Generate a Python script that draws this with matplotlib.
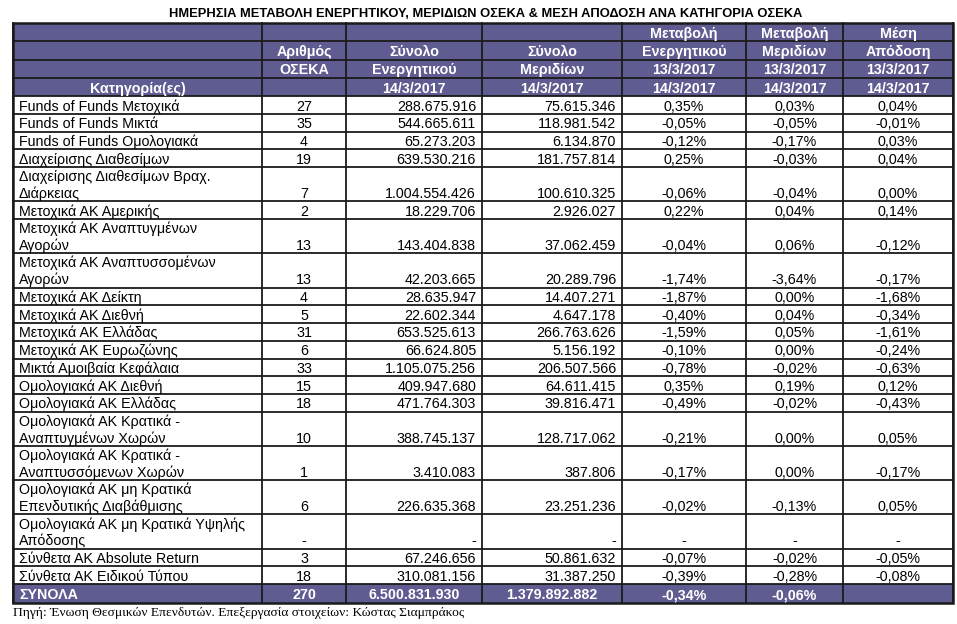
import matplotlib
matplotlib.use("Agg")
import matplotlib.pyplot as plt
from matplotlib.patches import Rectangle

plt.rcParams['font.family'] = ['Liberation Sans', 'DejaVu Sans']

title = "ΗΜΕΡΗΣΙΑ ΜΕΤΑΒΟΛΗ ΕΝΕΡΓΗΤΙΚΟΥ, ΜΕΡΙΔΙΩΝ ΟΣΕΚΑ & ΜΕΣΗ ΑΠΟΔΟΣΗ ΑΝΑ ΚΑΤΗΓΟΡΙΑ ΟΣΕΚΑ"
source = "Πηγή: Ένωση Θεσμικών Επενδυτών. Επεξεργασία στοιχείων: Κώστας Σιαμπράκος"

# κεφαλίδες: 4 γραμμές ανά στήλη
header = [
    ["", "", "", "Κατηγορία(ες)"],
    ["", "Αριθμός", "ΟΣΕΚΑ", ""],
    ["", "Σύνολο", "Ενεργητικού", "14/3/2017"],
    ["", "Σύνολο", "Μεριδίων", "14/3/2017"],
    ["Μεταβολή", "Ενεργητικού", "13/3/2017", "14/3/2017"],
    ["Μεταβολή", "Μεριδίων", "13/3/2017", "14/3/2017"],
    ["Μέση", "Απόδοση", "13/3/2017", "14/3/2017"],
]

categories = [
    "Funds of Funds Μετοχικά",
    "Funds of Funds Μικτά",
    "Funds of Funds Ομολογιακά",
    "Διαχείρισης Διαθεσίμων",
    "Διαχείρισης Διαθεσίμων Βραχ.\nΔιάρκειας",
    "Μετοχικά ΑΚ Αμερικής",
    "Μετοχικά ΑΚ Αναπτυγμένων\nΑγορών",
    "Μετοχικά ΑΚ Αναπτυσσομένων\nΑγορών",
    "Μετοχικά ΑΚ Δείκτη",
    "Μετοχικά ΑΚ Διεθνή",
    "Μετοχικά ΑΚ Ελλάδας",
    "Μετοχικά ΑΚ Ευρωζώνης",
    "Μικτά Αμοιβαία Κεφάλαια",
    "Ομολογιακά ΑΚ Διεθνή",
    "Ομολογιακά ΑΚ Ελλάδας",
    "Ομολογιακά ΑΚ Κρατικά -\nΑναπτυγμένων Χωρών",
    "Ομολογιακά ΑΚ Κρατικά -\nΑναπτυσσόμενων Χωρών",
    "Ομολογιακά ΑΚ μη Κρατικά\nΕπενδυτικής Διαβάθμισης",
    "Ομολογιακά ΑΚ μη Κρατικά Υψηλής\nΑπόδοσης",
    "Σύνθετα ΑΚ Absolute Return",
    "Σύνθετα ΑΚ Ειδικού Τύπου",
]
n_funds = ["27", "35", "4", "19", "7", "2", "13", "13", "4", "5", "31", "6",
           "33", "15", "18", "10", "1", "6", "-", "3", "18"]
assets = ["288.675.916", "544.665.611", "65.273.203", "639.530.216", "1.004.554.426",
          "18.229.706", "143.404.838", "42.203.665", "28.635.947", "22.602.344",
          "653.525.613", "66.624.805", "1.105.075.256", "409.947.680", "471.764.303",
          "388.745.137", "3.410.083", "226.635.368", "-", "67.246.656", "310.081.156"]
units = ["75.615.346", "118.981.542", "6.134.870", "181.757.814", "100.610.325",
         "2.926.027", "37.062.459", "20.289.796", "14.407.271", "4.647.178",
         "266.763.626", "5.156.192", "206.507.566", "64.611.415", "39.816.471",
         "128.717.062", "387.806", "23.251.236", "-", "50.861.632", "31.387.250"]
chg_assets = ["0,35%", "-0,05%", "-0,12%", "0,25%", "-0,06%", "0,22%", "-0,04%",
              "-1,74%", "-1,87%", "-0,40%", "-1,59%", "-0,10%", "-0,78%", "0,35%",
              "-0,49%", "-0,21%", "-0,17%", "-0,02%", "-", "-0,07%", "-0,39%"]
chg_units = ["0,03%", "-0,05%", "-0,17%", "-0,03%", "-0,04%", "0,04%", "0,06%",
             "-3,64%", "0,00%", "0,04%", "0,05%", "0,00%", "-0,02%", "0,19%",
             "-0,02%", "0,00%", "0,00%", "-0,13%", "-", "-0,02%", "-0,28%"]
avg_return = ["0,04%", "-0,01%", "0,03%", "0,04%", "0,00%", "0,14%", "-0,12%",
              "-0,17%", "-1,68%", "-0,34%", "-1,61%", "-0,24%", "-0,63%", "0,12%",
              "-0,43%", "0,05%", "-0,17%", "0,05%", "-", "-0,05%", "-0,08%"]
totals = ["ΣΥΝΟΛΑ", "270", "6.500.831.930", "1.379.892.882", "-0,34%", "-0,06%", ""]

# διάταξη σε pixels
W, H = 957, 624
col_x = [13, 262, 346, 482, 622, 746, 843, 953]
data_align = ["left", "center", "right", "right", "center", "center", "center"]
head_color = "#5f5c92"
line_color = "#1a1a1a"
top = 23
head_h = 18.3
row_h = 17.75
total_h = 19
fs = 10.3

fig = plt.figure(figsize=(W / 100, H / 100), dpi=100)
ax = fig.add_axes([0, 0, 1, 1])
ax.set_xlim(0, W)
ax.set_ylim(H, 0)
ax.axis("off")

ax.text((col_x[0] + col_x[-1]) / 2 + 3, 14, title, ha="center", va="center",
        fontsize=9.3, fontweight="bold")


def put(txt, c, y_bottom, align, **kw):
    x0, x1 = col_x[c], col_x[c + 1]
    if align == "left":
        x, ha = x0 + 6, "left"
    elif align == "right":
        x, ha = x1 - 6, "right"
    else:
        x, ha = (x0 + x1) / 2, "center"
    ax.text(x, y_bottom, txt, ha=ha, va="baseline", fontsize=fs, linespacing=1.2, **kw)


# κεφαλίδα
y = top
ax.add_patch(Rectangle((col_x[0], top), col_x[-1] - col_x[0], 4 * head_h,
                       facecolor=head_color, edgecolor="none"))
for r in range(4):
    for c, col in enumerate(header):
        if col[r]:
            put(col[r], c, y + head_h - 3.5, "center", color="white", fontweight="bold")
    y += head_h
    ax.plot([col_x[0], col_x[-1]], [y, y], color=line_color, lw=1.3)

# γραμμές δεδομένων
columns = [categories, n_funds, assets, units, chg_assets, chg_units, avg_return]
for i in range(len(categories)):
    nl = categories[i].count("\n") + 1
    h = row_h if nl == 1 else 34.2
    for c, col in enumerate(columns):
        put(col[i], c, y + h - 3.3, data_align[c])
    y += h
    ax.plot([col_x[0], col_x[-1]], [y, y], color=line_color, lw=1.3)

# σύνολα
ax.add_patch(Rectangle((col_x[0], y), col_x[-1] - col_x[0], total_h,
                       facecolor=head_color, edgecolor="none"))
for c, txt in enumerate(totals):
    put(txt, c, y + total_h - 4, "left" if c == 0 else "center",
        color="white", fontweight="bold")
y_end = y + total_h

for x in col_x:
    ax.plot([x, x], [top, y_end], color=line_color, lw=1.3)
ax.add_patch(Rectangle((col_x[0], top), col_x[-1] - col_x[0], y_end - top,
                       facecolor="none", edgecolor=line_color, lw=1.8))

ax.text(13, y_end + 4, source, ha="left", va="top", fontsize=9.7,
        family=["Liberation Serif", "DejaVu Serif"])

fig.savefig("out.png", dpi=100)
